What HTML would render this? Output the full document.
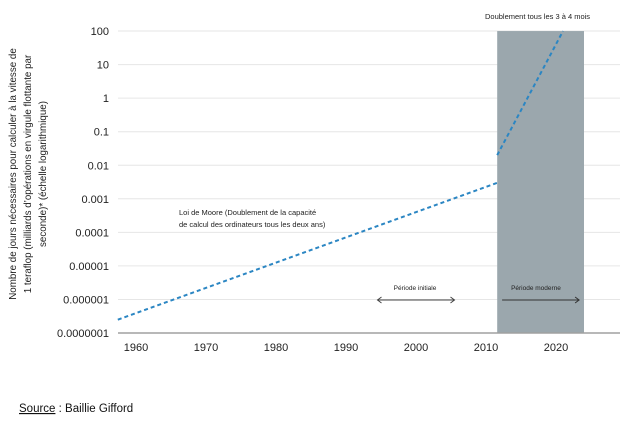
<!DOCTYPE html>
<html><head><meta charset="utf-8"><style>
body{margin:0;background:#fff;width:627px;height:417px;overflow:hidden;font-family:"Liberation Sans",sans-serif}
</style></head><body>
<svg width="627" height="417" id="c" font-family="Liberation Sans, sans-serif"></svg>
<script>
const yTicks=[100,10,1,0.1,0.01,0.001,0.0001,0.00001,0.000001,0.0000001];
const yTickLabels=["100","10","1","0.1","0.01","0.001","0.0001","0.00001","0.000001","0.0000001"];
const xTicks=[1960,1970,1980,1990,2000,2010,2020];
const mooreYears=[1957.4,2011.6];
const mooreValues=[2.5e-7,0.003];
const modernYears=[2011.6,2021];
const modernValues=[0.02,100];
const bandYears=[2011.6,2024];
const initialArrow=[1994.5,2005.5];
const modernArrow=[2012.3,2023.3];

const NS="http://www.w3.org/2000/svg";
const svg=document.getElementById('c');
const X0=118,X1=620;
const xs=y=>136+(y-1960)*7.0;
const ys=v=>333-(Math.log10(v)+7)*33.55;
function el(t,a,p){const e=document.createElementNS(NS,t);for(const k in a)e.setAttribute(k,a[k]);(p||svg).appendChild(e);return e;}

yTicks.forEach((v,i)=>{
  const y=ys(v);
  const g=el('line',{x1:X0,x2:X1,y1:y,y2:y,stroke:'#e6e6e6','stroke-width':1});
  
  
  const t=el('text',{x:109,y:y+4,'text-anchor':'end','font-size':11,fill:'#222'});
  t.textContent=yTickLabels[i];
  
  
});
let b=el('rect',{x:xs(bandYears[0]),y:ys(100),width:xs(bandYears[1])-xs(bandYears[0]),height:ys(1e-7)-ys(100),fill:'#9ba7ad'});


const ax=el('line',{x1:X0,x2:X1,y1:ys(1e-7),y2:ys(1e-7),stroke:'#a0a0a0','stroke-width':1.5});



xTicks.forEach(v=>{
  const t=el('text',{x:xs(v),y:351,'text-anchor':'middle','font-size':11,fill:'#222'});
  t.textContent=v;
  
  
});

function series(xsArr,vs,name){
  const l=el('line',{x1:xs(xsArr[0]),y1:ys(vs[0]),x2:xs(xsArr[1]),y2:ys(vs[1]),stroke:'#2b86c3','stroke-width':2,'stroke-dasharray':'4,3'});
  
  
}
series(mooreYears,mooreValues,'moore-law-line');
series(modernYears,modernValues,'modern-period-line');

function arrow(a,name,col){
  const y=300,x1=xs(a[0]),x2=xs(a[1]);
  const g=el('g',{stroke:col,'stroke-width':1,fill:'none'});
  
  
  el('line',{x1:x1,x2:x2,y1:y,y2:y},g);
  el('path',{d:`M${x2-4},${y-3}L${x2},${y}L${x2-4},${y+3}`},g);
  if(name=='initial-period-arrow')el('path',{d:`M${x1+4},${y-3}L${x1},${y}L${x1+4},${y+3}`},g);
}
arrow(initialArrow,'initial-period-arrow','#444');
arrow(modernArrow,'modern-period-arrow','#333');

function txt(x,y,s,fs,name,anchor){const t=el('text',{x:x,y:y,'font-size':fs,fill:'#222','text-anchor':anchor||'start'});t.textContent=s;return t;}
txt(415,290,'Période initiale',6.5,'initial-period-label','middle');
txt(536,290,'Période moderne',6.5,'modern-period-label','middle');
txt(179,215,'Loi de Moore (Doublement de la capacité',7.5,'moore-label-line1');
txt(179,227,'de calcul des ordinateurs tous les deux ans)',7.5,'moore-label-line2');
txt(485,19,'Doublement tous les 3 à 4 mois',7.5,'doubling-label');

const yt=el('g',{});


[['Nombre de jours nécessaires pour calculer à la vitesse de',16],['1 teraflop (milliards d’opérations en virgule flottante par',31],['seconde)* (échelle logarithmique)',46]].forEach(([s,x])=>{
  const t=el('text',{transform:`translate(${x},174) rotate(-90)`,'font-size':9.8,fill:'#222','text-anchor':'middle'},yt);
  t.textContent=s;
});
const src=el('text',{x:19,y:412,'font-size':11.5,fill:'#111'});


src.innerHTML='<tspan text-decoration="underline">Source</tspan> : Baillie Gifford';
</script>
</body></html>
